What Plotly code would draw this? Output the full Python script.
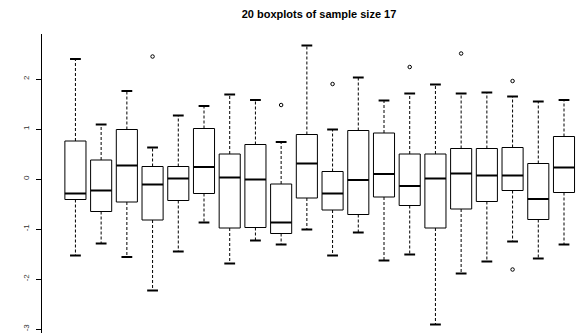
import plotly.graph_objects as go

# ---- data ----
groups = list(range(1, 21))
upper_whisker = [2.40, 1.09, 1.76, 0.63, 1.27, 1.46, 1.69, 1.58, 0.74, 2.67,
                 0.99, 2.03, 1.57, 1.71, 1.89, 1.71, 1.73, 1.65, 1.55, 1.58]
q3 = [0.76, 0.38, 0.99, 0.25, 0.25, 1.01, 0.50, 0.69, -0.10, 0.89,
      0.15, 0.97, 0.92, 0.50, 0.50, 0.61, 0.61, 0.63, 0.31, 0.85]
median = [-0.29, -0.23, 0.27, -0.11, 0.01, 0.24, 0.03, -0.01, -0.87, 0.31,
          -0.29, -0.02, 0.10, -0.14, 0.01, 0.11, 0.07, 0.07, -0.40, 0.23]
q1 = [-0.41, -0.65, -0.46, -0.82, -0.43, -0.29, -0.98, -0.97, -1.09, -0.38,
      -0.62, -0.71, -0.36, -0.53, -0.98, -0.60, -0.45, -0.23, -0.81, -0.27]
lower_whisker = [-1.53, -1.29, -1.56, -2.23, -1.45, -0.87, -1.69, -1.23, -1.31, -1.01,
                 -1.53, -1.07, -1.63, -1.51, -2.91, -1.89, -1.65, -1.25, -1.59, -1.31]
outlier_group = [4, 9, 11, 14, 16, 18, 18]
outlier_value = [2.45, 1.48, 1.90, 2.24, 2.51, 1.96, -1.81]
y_ticks = [-3, -2, -1, 0, 1, 2]
title = "20 boxplots of sample size 17"

half_box = 0.41
half_cap = 0.21

bx, by, mx, my, wx, wy, cx, cy = [], [], [], [], [], [], [], []
for g, uw, a3, md, a1, lw in zip(groups, upper_whisker, q3, median, q1, lower_whisker):
    bx += [g - half_box, g + half_box, g + half_box, g - half_box, g - half_box, None]
    by += [a1, a1, a3, a3, a1, None]
    mx += [g - half_box, g + half_box, None]
    my += [md, md, None]
    wx += [g, g, None, g, g, None]
    wy += [a3, uw, None, a1, lw, None]
    cx += [g - half_cap, g + half_cap, None, g - half_cap, g + half_cap, None]
    cy += [uw, uw, None, lw, lw, None]

fig = go.Figure()
fig.add_trace(go.Scatter(x=wx, y=wy, mode="lines", hoverinfo="skip",
                         line=dict(color="black", width=1, dash="3px,2px")))
fig.add_trace(go.Scatter(x=cx, y=cy, mode="lines", hoverinfo="skip",
                         line=dict(color="black", width=2)))
fig.add_trace(go.Scatter(x=bx, y=by, mode="lines", hoverinfo="skip",
                         line=dict(color="black", width=1)))
fig.add_trace(go.Scatter(x=mx, y=my, mode="lines", hoverinfo="skip",
                         line=dict(color="black", width=2)))
fig.add_trace(go.Scatter(x=outlier_group, y=outlier_value, mode="markers",
                         marker=dict(symbol="circle-open", size=3.5,
                                     color="black", line=dict(width=1))))

fig.update_layout(
    width=582, height=333,
    margin=dict(l=42, r=0, t=34, b=0),
    paper_bgcolor="white", plot_bgcolor="white",
    showlegend=False,
    font=dict(family="Liberation Sans, Arial, sans-serif", color="black"),
    title=dict(text="<b>" + title + "</b>", font=dict(size=11),
               x=319 / 582, xref="container", xanchor="center",
               y=1 - 14 / 333, yref="container", yanchor="middle"),
    xaxis=dict(range=[-0.3, 20.7], visible=False, showgrid=False, zeroline=False),
    yaxis=dict(range=[-3.08, 2.9], showgrid=False, zeroline=False,
               showline=True, linecolor="black", linewidth=1,
               ticks="outside", ticklen=5, tickcolor="black", tickwidth=1,
               tickvals=y_ticks, ticktext=[str(t) for t in y_ticks],
               tickangle=-90, tickfont=dict(size=8, color="#333333"),
               ticklabelstandoff=4),
)

fig.write_html("out.html")
